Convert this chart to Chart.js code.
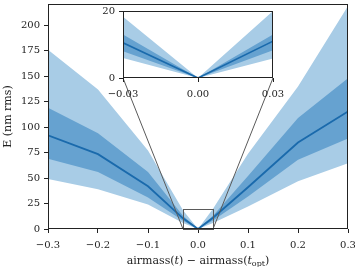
<!DOCTYPE html>
<html><head><meta charset="utf-8">
<script src="https://cdn.jsdelivr.net/npm/chart.js@4"></script>
<style>
html,body{margin:0;padding:0;background:#fff;}
#wrap{position:relative;width:355px;height:267px;overflow:hidden;}
#main{position:absolute;left:0;top:0;}
#inset{position:absolute;left:95px;top:0;}
</style></head><body>
<div id="wrap"><canvas id="main" width="355" height="267"></canvas><canvas id="inset" width="200" height="105"></canvas></div>
<script>
// ---- data ----
const airmassOffset = [-0.3, -0.2, -0.1, -0.03, 0, 0.03, 0.1, 0.2, 0.3];
const medianE      = [92, 73.5, 42, 10.5, 0, 11, 41, 85, 115.5];
const innerUpperE  = [119, 94, 56, 13, 0, 13, 52, 109, 148];
const innerLowerE  = [69, 56, 31, 8, 0, 8.3, 32, 68, 89];
const outerUpperE  = [176, 137, 77, 18.3, 0, 20, 74, 140, 219];
const outerLowerE  = [49, 39, 24, 6, 0, 5.8, 22, 47, 64.7];
const mainXTicks = [-0.3, -0.2, -0.1, 0, 0.1, 0.2, 0.3];
const mainYTicks = [0, 25, 50, 75, 100, 125, 150, 175, 200];
const insetXTicks = [-0.03, 0, 0.03];
const insetYTicks = [0, 20];
const zoomBox = {x0: -0.03, x1: 0.03, y0: 0, y1: 20};

// ---- style ----
const FONT = "'DejaVu Serif', serif";
const LIGHT = 'rgb(168,204,230)';
const DARK = 'rgb(102,162,208)';
const LINE = 'rgb(26,106,172)';
const FRAME = '#222';
const CONN = 'rgb(90,90,90)';

function pts(ys){ return airmassOffset.map((x,i)=>({x:x, y:ys[i]})); }
function fmt(v, d){ const s = Math.abs(v) < 1e-9 ? (0).toFixed(d) : Math.abs(v).toFixed(d); return (v < -1e-9 ? '\u2212' : '') + s; }

function makeDatasets(lw){
  return [
    {label:'median', data:pts(medianE), borderColor:LINE, borderWidth:lw, pointRadius:0, fill:false, order:0, tension:0},
    {label:'innerUpper', data:pts(innerUpperE), borderColor:'rgba(0,0,0,0)', borderWidth:0, pointRadius:0, backgroundColor:DARK, fill:'+1', order:1},
    {label:'innerLower', data:pts(innerLowerE), borderColor:'rgba(0,0,0,0)', borderWidth:0, pointRadius:0, fill:false, order:2},
    {label:'outerUpper', data:pts(outerUpperE), borderColor:'rgba(0,0,0,0)', borderWidth:0, pointRadius:0, backgroundColor:LIGHT, fill:'+1', order:3},
    {label:'outerLower', data:pts(outerLowerE), borderColor:'rgba(0,0,0,0)', borderWidth:0, pointRadius:0, fill:false, order:4}
  ];
}

function axisOpts(min, max, ticks, decimals, fitSize, horiz, pad){
  return {
    type:'linear', min:min, max:max,
    afterBuildTicks: s => { s.ticks = ticks.map(v=>({value:v})); },
    afterFit: s => { if (horiz) s.height = fitSize; else s.width = fitSize; s.paddingLeft = 0; s.paddingRight = 0; s.paddingTop = 0; s.paddingBottom = 0; },
    grid:{ drawOnChartArea:false, drawTicks:true, tickLength:4, tickColor:FRAME, tickWidth:1, color:FRAME },
    border:{ display:false },
    ticks:{ font:{family:FONT, size:10}, color:'#222', padding:pad, maxRotation:0, minRotation:0, autoSkip:false,
      callback: v => decimals === null ? String(v) : fmt(v, decimals) }
  };
}

const framePlugin = {
  id:'frame',
  beforeDraw(c){
    const a = c.chartArea, ctx = c.ctx;
    if (c.options.plugins.frame && c.options.plugins.frame.whiteBg){
      ctx.save(); ctx.fillStyle = '#fff'; ctx.fillRect(a.left, a.top, a.right-a.left, a.bottom-a.top); ctx.restore();
    }
  },
  afterDraw(c){
    const a = c.chartArea, ctx = c.ctx;
    ctx.save(); ctx.strokeStyle = FRAME; ctx.lineWidth = 1;
    ctx.strokeRect(Math.round(a.left)+0.5, Math.round(a.top)+0.5, Math.round(a.right-a.left)-1, Math.round(a.bottom-a.top)-1);
    ctx.restore();
  }
};

// ---- inset chart ----
const insetChart = new Chart(document.getElementById('inset'), {
  type:'line',
  data:{ datasets: makeDatasets(1.6) },
  options:{
    responsive:false, animation:false, events:[],
    layout:{ padding:{left:0, right:22, top:11, bottom:0} },
    plugins:{ legend:{display:false}, tooltip:{enabled:false}, frame:{whiteBg:true} },
    scales:{
      x: axisOpts(-0.03, 0.03, insetXTicks, 2, 27, true, 6),
      y: axisOpts(0, 20, insetYTicks, null, 28, false, 4)
    }
  },
  plugins:[framePlugin]
});

const titlePlugin = {
  id:'titles',
  afterDraw(c){
    const ctx = c.ctx, a = c.chartArea;
    ctx.save();
    ctx.fillStyle = '#222';
    // y title
    ctx.font = "11px " + FONT;
    ctx.translate(8, (a.top + a.bottom)/2);
    ctx.rotate(-Math.PI/2);
    ctx.textAlign = 'center'; ctx.textBaseline = 'middle';
    ctx.fillText('E (nm rms)', 0, 0);
    ctx.restore();
    // x title with italic t and subscript
    const segs = [
      {t:'airmass(', f:"11px " + FONT, dy:0},
      {t:'t', f:"italic 11px " + FONT, dy:0},
      {t:') \u2212 airmass(', f:"11px " + FONT, dy:0},
      {t:'t', f:"italic 11px " + FONT, dy:0},
      {t:'opt', f:"8px " + FONT, dy:2.5},
      {t:')', f:"11px " + FONT, dy:0}
    ];
    ctx.save();
    let w = 0;
    segs.forEach(s => { ctx.font = s.f; s.w = ctx.measureText(s.t).width; w += s.w; });
    let x = (a.left + a.right)/2 - w/2;
    const base = 263.5;
    ctx.fillStyle = '#222'; ctx.textBaseline = 'alphabetic'; ctx.textAlign = 'left';
    segs.forEach(s => { ctx.font = s.f; ctx.fillText(s.t, x, base + s.dy); x += s.w; });
    ctx.restore();
  }
};

const connectorPlugin = {
  id:'connector',
  afterDatasetsDraw(c){
    const ctx = c.ctx, sx = c.scales.x, sy = c.scales.y;
    const mainRect = c.canvas.getBoundingClientRect();
    const insRect = insetChart.canvas.getBoundingClientRect();
    const ox = insRect.left - mainRect.left, oy = insRect.top - mainRect.top;
    const ix = insetChart.scales.x, iy = insetChart.scales.y;
    const x0 = sx.getPixelForValue(zoomBox.x0), x1 = sx.getPixelForValue(zoomBox.x1);
    const y0 = sy.getPixelForValue(zoomBox.y0), y1 = sy.getPixelForValue(zoomBox.y1);
    ctx.save();
    ctx.strokeStyle = CONN; ctx.lineWidth = 1;
    ctx.strokeRect(Math.round(x0)+0.5, Math.round(y1)+0.5, Math.round(x1-x0), Math.round(y0-y1));
    ctx.beginPath();
    ctx.moveTo(ox + ix.getPixelForValue(zoomBox.x0), oy + iy.getPixelForValue(zoomBox.y0));
    ctx.lineTo(x0, y0);
    ctx.moveTo(ox + ix.getPixelForValue(zoomBox.x1), oy + iy.getPixelForValue(zoomBox.y0));
    ctx.lineTo(x1, y0);
    ctx.stroke();
    ctx.restore();
  }
};

// ---- main chart ----
new Chart(document.getElementById('main'), {
  type:'line',
  data:{ datasets: makeDatasets(1.8) },
  options:{
    responsive:false, animation:false, events:[],
    layout:{ padding:{left:0, right:7, top:4, bottom:0} },
    plugins:{ legend:{display:false}, tooltip:{enabled:false}, frame:{whiteBg:false} },
    scales:{
      x: axisOpts(-0.3, 0.3, mainXTicks, 1, 38, true, 6),
      y: axisOpts(0, 221, mainYTicks, null, 48, false, 4)
    }
  },
  plugins:[framePlugin, connectorPlugin, titlePlugin]
});
</script>
</body></html>
